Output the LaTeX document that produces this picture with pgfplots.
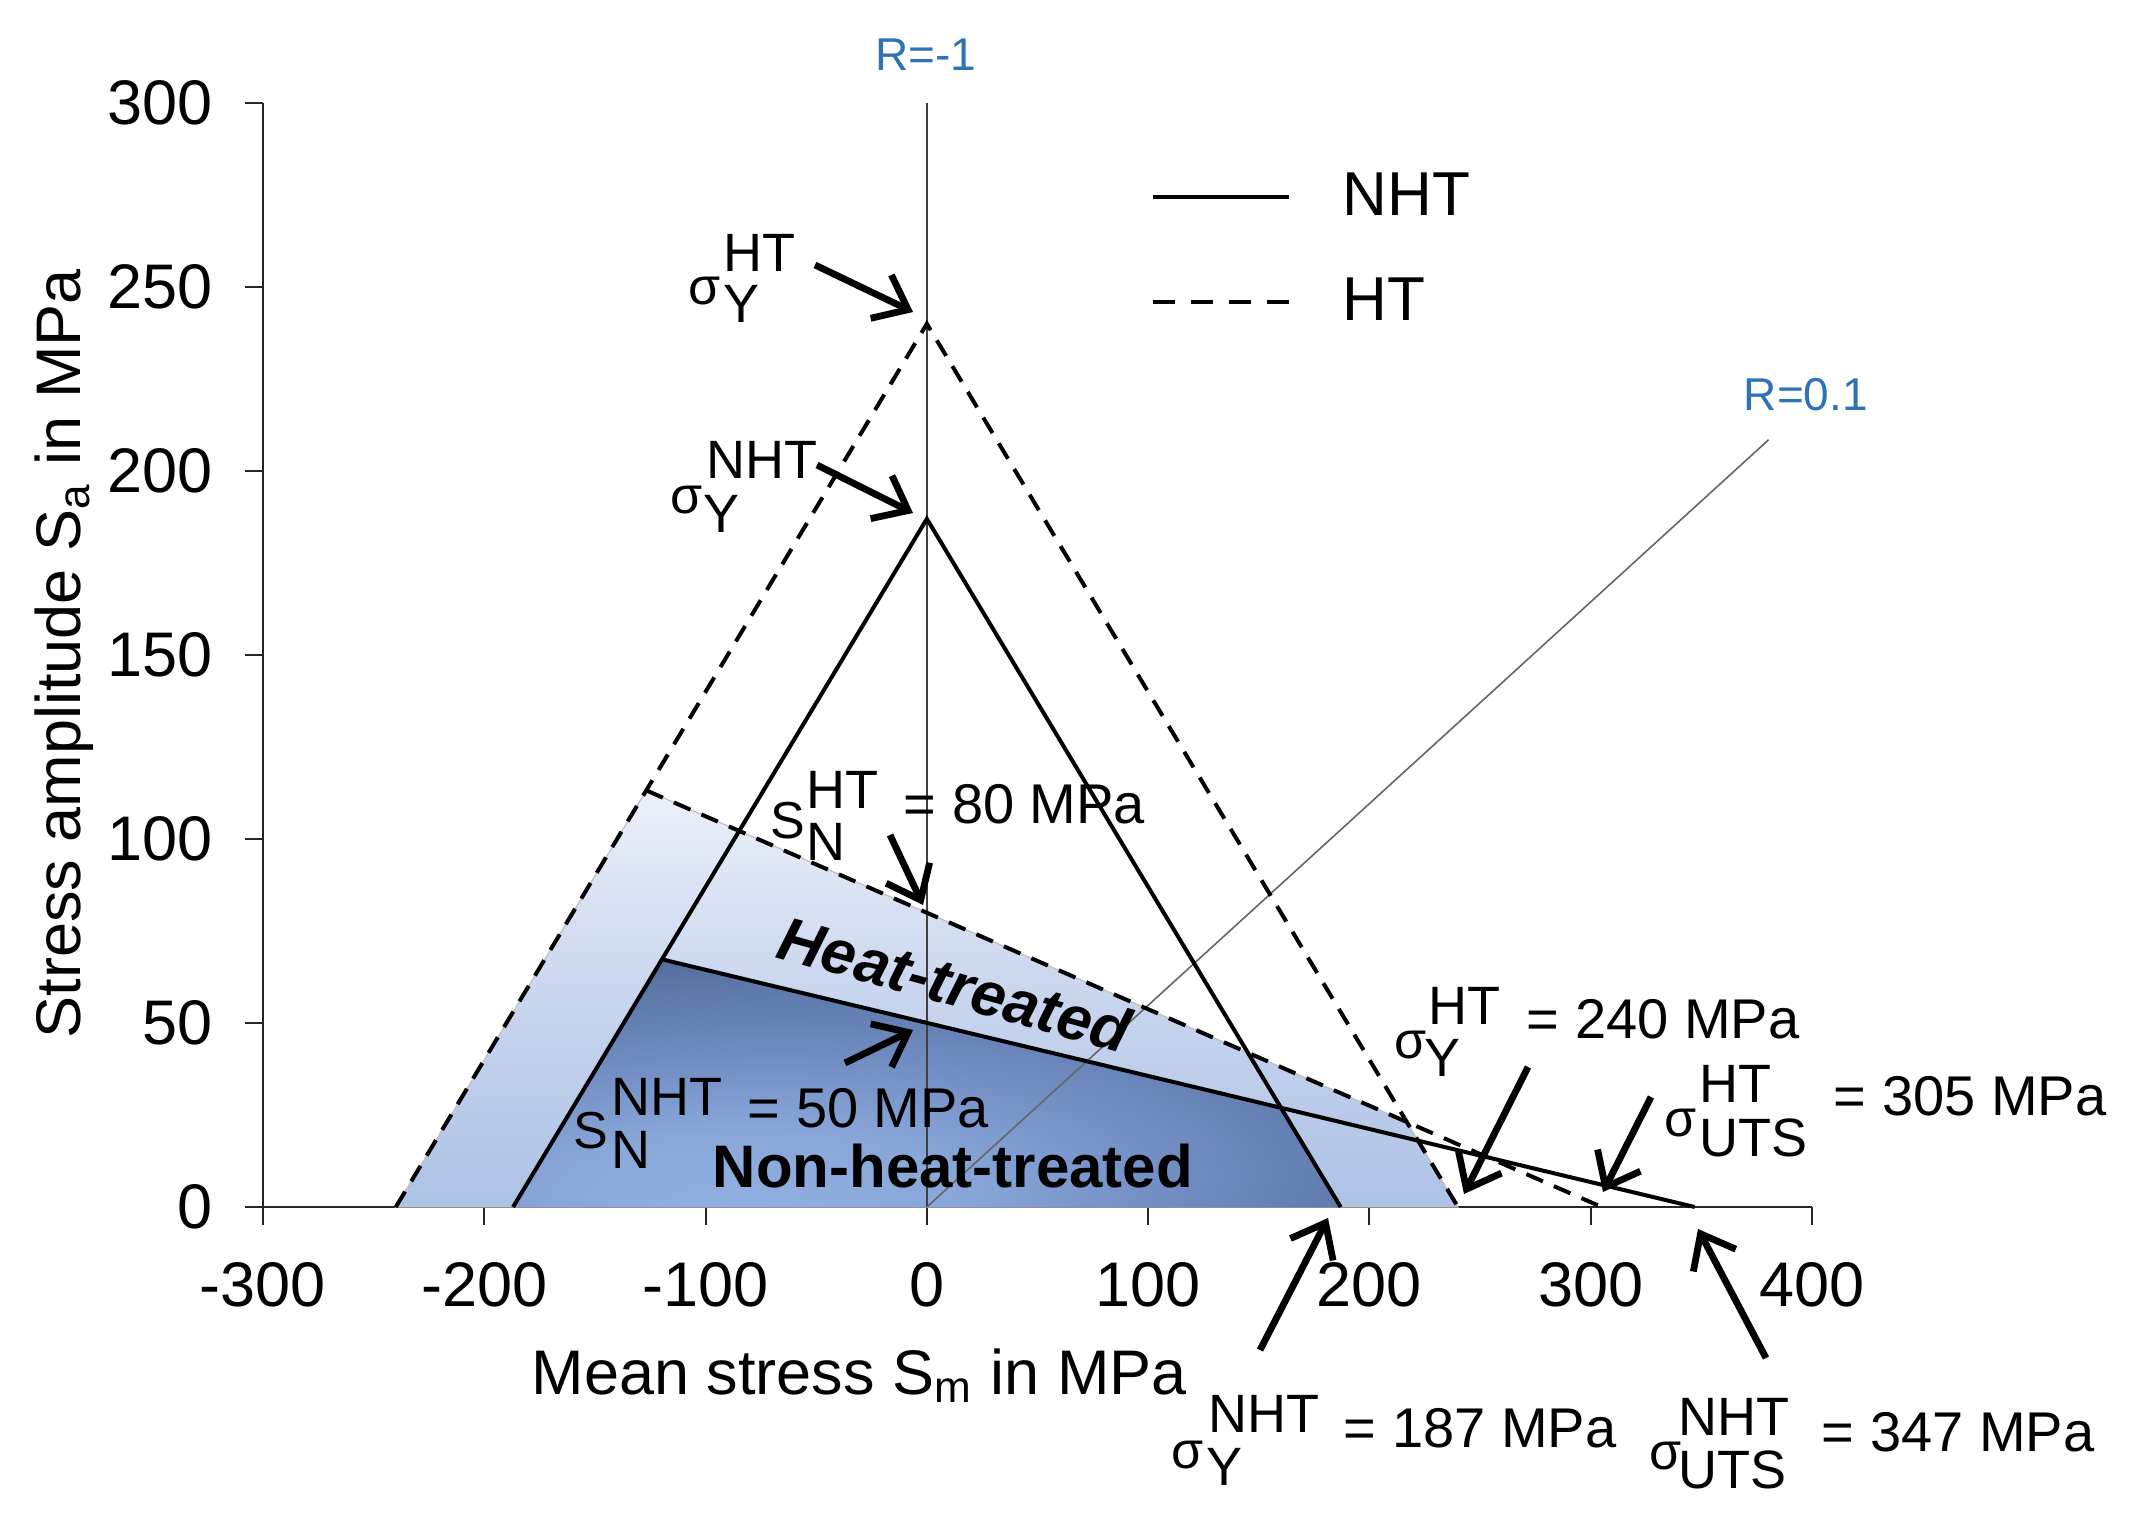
\documentclass[border=0pt]{standalone}
\usepackage{fontspec}
\setmainfont{Liberation Sans}
\usepackage{pgfplots}
\pgfplotsset{compat=1.18}
\usetikzlibrary{arrows.meta}

\definecolor{rblue}{HTML}{2E74B5}
\definecolor{lt1}{HTML}{ECF0F9}
\definecolor{lt2}{HTML}{C8D5EE}
\definecolor{lt3}{HTML}{ADC2E5}
\definecolor{dk1}{HTML}{91AFE1}
\definecolor{dk2}{HTML}{8AA7DA}
\definecolor{dk3}{HTML}{6F8BC0}
\definecolor{dk4}{HTML}{55709F}

\pgfdeclareradialshading{darkfill}{\pgfpoint{-12bp}{-25bp}}{color(0bp)=(dk1); color(12bp)=(dk2); color(25bp)=(dk3); color(40bp)=(dk4); color(100bp)=(dk4)}
\pgfdeclareverticalshading{lightfill}{100bp}{color(0bp)=(lt3); color(25bp)=(lt3); color(50bp)=(lt2); color(75bp)=(lt1); color(100bp)=(lt1)}

\tikzset{
 val/.style={anchor=base west, inner sep=0pt, font=\fontsize{14pt}{16pt}\selectfont},
 bs/.style={anchor=base west, inner sep=0pt, font=\fontsize{13pt}{15pt}\selectfont},
 ss/.style={anchor=base west, inner sep=0pt, font=\fontsize{13.5pt}{15pt}\selectfont},
 arr/.style={line width=1.7pt, -{Straight Barb[length=7.5pt,width=12pt]}},
}

\begin{document}
\begin{tikzpicture}
\path[use as bounding box] (0,0) rectangle (537pt,-379.5pt);
\begin{axis}[
  at={(65.75pt,-301.75pt)}, anchor=south west,
  scale only axis, width=387.25pt, height=276pt,
  xmin=-300, xmax=400, ymin=0, ymax=300,
  axis lines=left, axis line style={-, line width=0.6pt, black!85},
  xtick={-300,-200,...,400}, ytick={0,50,...,300},
  tick align=outside, major tick length=4.5pt,
  tick style={line width=0.5pt, black!85},
  ticklabel style={font=\fontsize{15.75pt}{18pt}\selectfont},
  xticklabel style={yshift=-5.8pt},
  yticklabel style={xshift=-4.5pt},
  /pgf/number format/assume math mode=true,
  /pgf/number format/1000 sep={},
  xlabel={Mean stress S\textsubscript{m} in MPa},
  ylabel={Stress amplitude S\textsubscript{a} in MPa},
  label style={font=\fontsize{15.75pt}{19pt}\selectfont, inner sep=0pt},
  xlabel style={at={(axis description cs:0.1730,-0.1694)}, anchor=base west},
  ylabel style={at={(axis description cs:-0.1177,0.1522)}, anchor=base west},
  clip=false,
  legend style={draw=none, fill=none, at={(axis description cs:0.5726,0.9375)}, anchor=north west,
    inner sep=0pt, font=\fontsize{15.5pt}{18pt}\selectfont, row sep=14pt,
    nodes={inner sep=0pt},
    /tikz/every odd column/.append style={column sep=13pt}},
  legend cell align=left,
  legend image code/.code={\draw[#1] (0pt,0pt) -- (34pt,0pt);},
]
\addlegendimage{black, line width=1pt}
\addlegendentry{NHT}
\addlegendimage{black, line width=1pt, dash pattern=on 5.5pt off 4pt}
\addlegendentry{HT}

% shaded regions
\addplot[forget plot, draw=gray!50, line width=0.3pt, shade, shading=lightfill]
  coordinates {(-240,0) (-126.75,113.2) (216.9,23.1) (240,0)} -- cycle;
\addplot[forget plot, draw=none, shade, shading=darkfill]
  coordinates {(-187,0) (-119.7,67.3) (160.06,26.94) (187,0)} -- cycle;

% R lines
\addplot[forget plot, line width=0.4pt, black!75] coordinates {(0,0) (0,300)};
\addplot[forget plot, line width=0.4pt, black!60] coordinates {(0,0) (380.4,208.5)};

% HT (dashed)
\addplot[forget plot, black, line width=1pt, dash pattern=on 4.5pt off 3pt]
  coordinates {(-240,0) (0,240) (240,0)};
\addplot[forget plot, black, line width=1pt, dash pattern=on 4.5pt off 3pt]
  coordinates {(-126.75,113.2) (305,0)};

% NHT (solid)
\addplot[forget plot, black, line width=1pt] coordinates {(-187,0) (0,187) (187,0)};
\addplot[forget plot, black, line width=1pt] coordinates {(-119.7,67.3) (347,0)};
\end{axis}

\begin{scope}[x=0.25pt, y=-0.25pt]
% R labels
\node[anchor=base, inner sep=0pt, text=rblue, font=\fontsize{11.5pt}{13pt}\selectfont] at (926,71) {R=-1};
\node[anchor=base west, inner sep=0pt, text=rblue, font=\fontsize{11.5pt}{13pt}\selectfont] at (1743,411) {R=0.1};

% region names
\node[inner sep=0pt, rotate=-15.5, font=\fontsize{15.5pt}{18pt}\selectfont\bfseries\itshape] at (955,984) {Heat-treated};
\node[anchor=base west, inner sep=0pt, font=\fontsize{15pt}{18pt}\selectfont\bfseries] at (712,1187) {Non-heat-treated};

% a) sigma_Y^HT top
\node[bs] at (688,305) {σ};
\node[ss] at (723,272) {HT};
\node[ss] at (723,323) {Y};
\draw[arr] (815,265) -- (913,312);

% b) sigma_Y^NHT top
\node[bs] at (670,513) {σ};
\node[ss] at (706,478) {NHT};
\node[ss] at (703,532) {Y};
\draw[arr] (817,465) -- (913,513);

% c) S_N^HT
\node[bs] at (770,838) {S};
\node[ss] at (806,808) {HT};
\node[ss] at (806,860) {N};
\node[val] at (903,823) {= 80 MPa};
\draw[arr] (890,835) -- (923,905);

% d) S_N^NHT
\node[bs] at (573,1148) {S};
\node[ss] at (611,1115) {NHT};
\node[ss] at (611,1168) {N};
\node[val] at (747,1127) {= 50 MPa};
\draw[arr] (845,1063) -- (913,1030);

% g) sigma_Y^HT = 240
\node[bs] at (1394,1058) {σ};
\node[ss] at (1428,1024) {HT};
\node[ss] at (1424,1076) {Y};
\node[val] at (1526,1038) {= 240 MPa};
\draw[arr] (1528,1067) -- (1464,1194);

% h) sigma_UTS^HT = 305
\node[bs] at (1664,1136) {σ};
\node[ss] at (1699,1102) {HT};
\node[ss] at (1699,1156) {UTS};
\node[val] at (1833,1115) {= 305 MPa};
\draw[arr] (1651,1097) -- (1603,1192);

% i) sigma_Y^NHT = 187
\node[bs] at (1171,1468) {σ};
\node[ss] at (1208,1432) {NHT};
\node[ss] at (1206,1485) {Y};
\node[val] at (1343,1447) {= 187 MPa};
\draw[arr] (1260,1350) -- (1328,1218);

% j) sigma_UTS^NHT = 347
\node[bs] at (1649,1469) {σ};
\node[ss] at (1678,1435) {NHT};
\node[ss] at (1678,1488) {UTS};
\node[val] at (1821,1451) {= 347 MPa};
\draw[arr] (1766,1358) -- (1698,1229);
\end{scope}
\end{tikzpicture}
\end{document}
